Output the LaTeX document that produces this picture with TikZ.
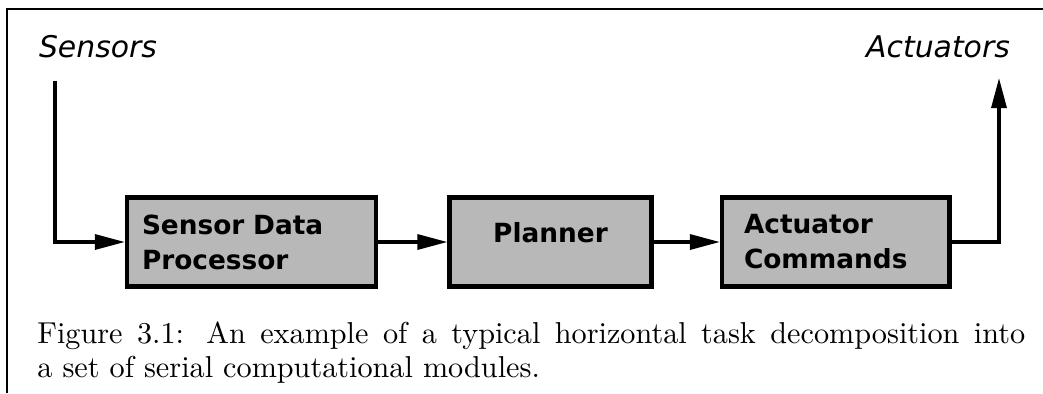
\documentclass[tikz,border=0pt]{standalone}
\usepackage{fontspec}
\newfontfamily\modfont{DejaVu Sans}
\newfontfamily\capfont{lmroman10-regular.otf}
\usetikzlibrary{arrows.meta}

\begin{document}
\begin{tikzpicture}[x=0.02cm,y=-0.02cm,
    module/.style={draw,line width=0.085cm,fill=black!28,minimum height=1.78cm,
      font=\modfont\bfseries\fontsize{15pt}{20pt}\selectfont},
    flow/.style={line width=0.065cm,-{Triangle[length=0.6cm,width=0.3cm]}},
    io/.style={font=\modfont\itshape\fontsize{17pt}{20pt}\selectfont,anchor=base}]
    \useasboundingbox (0,0) rectangle (1043,393);
    \draw[line width=0.05cm] (1043,9) -- (7,9) -- (7,393);
    \node[io] (sensors) at (98,57) {Sensors};
    \node[io] (actuators) at (938,57) {Actuators};
    \node[module,text width=4.38cm,inner xsep=0.3cm,align=left] (sdp) at (251.5,242) {Sensor Data\\Processor};
    \node[module,minimum width=4.04cm,text height=0pt,text depth=0pt] (planner) at (550.5,242) {Planner};
    \node[module,text width=3.67cm,inner xsep=0.44cm,align=left] (cmds) at (835.75,242) {Actuator\\Commands};
    \coordinate (in) at (55,81);
    \coordinate (out) at (999,78);
    \draw[flow] (in) |- (sdp);
    \draw[flow] (sdp) -- (planner);
    \draw[flow] (planner) -- (cmds);
    \draw[flow] (cmds) -| (out);
    \node[anchor=north west,inner sep=0pt,text width=19.76cm,align=justify,
      font=\capfont\fontsize{17.2pt}{19.5pt}\selectfont] (caption) at (37,321)
      {Figure 3.1: An example of a typical horizontal task decomposition into\linebreak a set of serial computational modules.};
\end{tikzpicture}
\end{document}
